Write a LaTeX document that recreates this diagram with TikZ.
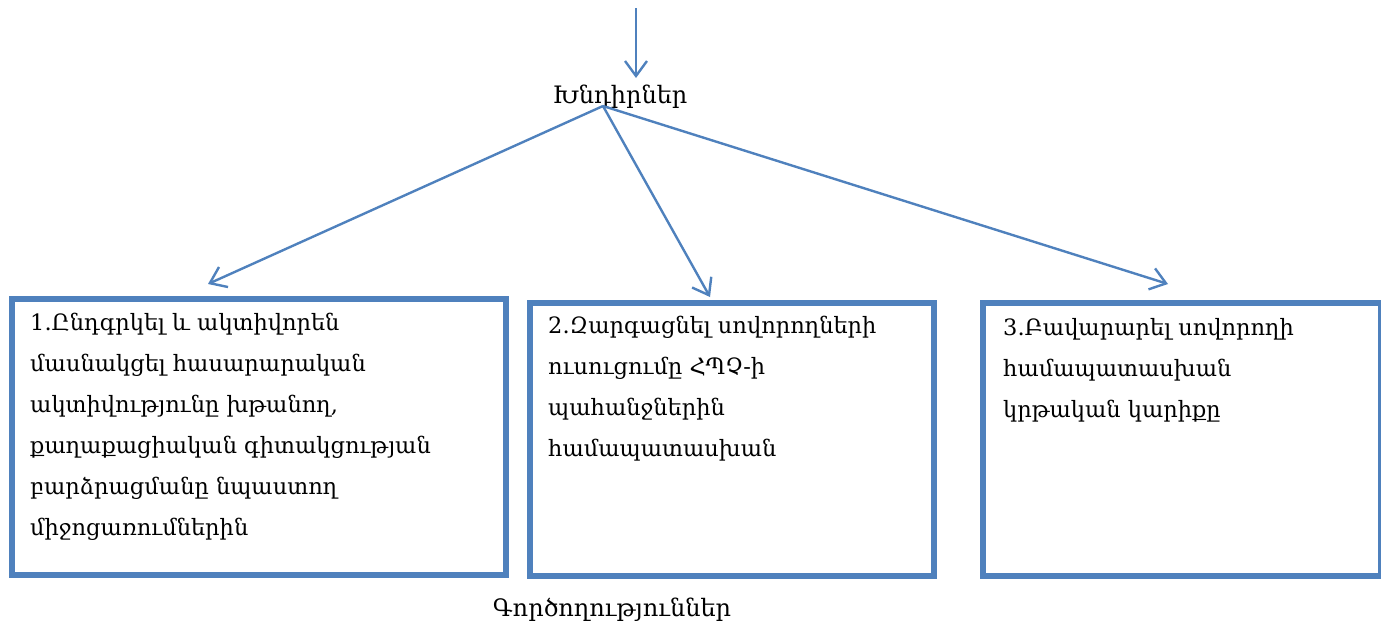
\documentclass[tikz,border=0pt]{standalone}
\usepackage{fontspec}
\setmainfont{DejaVu Serif}
\usetikzlibrary{arrows.meta}
\definecolor{obl}{HTML}{4F81BD}
\tikzset{
  boxst/.style={draw=obl, line width=5.5pt, anchor=north west, inner sep=0pt},
  conn/.style={draw=obl, line width=2.4pt, -{Straight Barb[length=15pt,width=22pt,line width=2.4pt]}},
  txt/.style={anchor=north west, align=left, inner sep=0pt, font=\fontsize{22.5}{41}\selectfont},
  lbl/.style={inner sep=0pt, font=\fontsize{24}{30}\selectfont}
}
\begin{document}
\begin{tikzpicture}[x=1pt,y=-1pt]
\useasboundingbox (0,0) rectangle (1381,630);
% boxes
\node[boxst, minimum width=494pt, minimum height=276pt] (b1) at (9,296) {};
\node[boxst, minimum width=404pt, minimum height=273pt] (b2) at (527,300) {};
\node[boxst, minimum width=398pt, minimum height=273pt] (b3) at (980,300) {};
% texts
\node[txt] (t1) at (30,313) {1.Ընդգրկել և ակտիվորեն\\մասնակցել հասարարական\\ակտիվությունը խթանող,\\քաղաքացիական գիտակցության\\բարձրացմանը նպաստող\\միջոցառումներին};
\node[txt] (t2) at (548,316) {2.Զարգացնել սովորողների\\ուսուցումը ՀՊՉ-ի\\պահանջներին\\համապատասխան};
\node[txt] (t3) at (1003,318) {3.Բավարարել սովորողի\\համապատասխան\\կրթական կարիքը};
% labels
\node[lbl] (prob) at (620,97) {Խնդիրներ};
\node[lbl] (act) at (612,610) {Գործողություններ};
% connectors
\coordinate (top) at (636,8);
\coordinate (topend) at (636,78);
\coordinate (src) at (603,106);
\coordinate (e1) at (208,284);
\coordinate (e2) at (710,297);
\coordinate (e3) at (1168,284);
\draw[conn] (top) -- (topend);
\draw[conn] (src) -- (e1);
\draw[conn] (src) -- (e2);
\draw[conn] (src) -- (e3);
\end{tikzpicture}
\end{document}
